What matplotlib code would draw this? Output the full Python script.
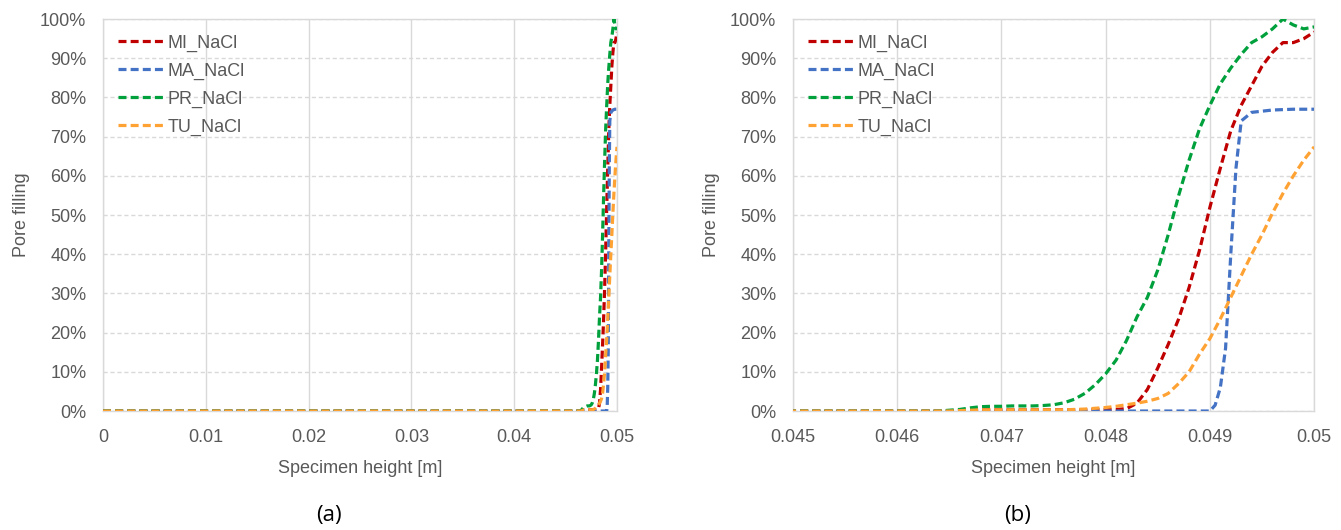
import matplotlib.pyplot as plt
import matplotlib.ticker as mticker
import numpy as np

plt.rcParams['font.family'] = ['Liberation Sans', 'DejaVu Sans']

# specimen height [m]
height = [0.0, 0.045,
          0.0464, 0.0465, 0.0466, 0.0467, 0.0468, 0.0469, 0.0470, 0.0471, 0.0472,
          0.0473, 0.0474, 0.0475, 0.0476, 0.0477, 0.0478, 0.0479, 0.0480, 0.0481,
          0.0482, 0.0483, 0.0484, 0.0485, 0.0486, 0.0487, 0.0488, 0.0489, 0.0490,
          0.0491, 0.0492, 0.0493, 0.0494, 0.0495, 0.0496, 0.0497, 0.0498, 0.0499,
          0.0500]

# pore filling [-]
mi_nacl = [0.0, 0.0,
           0.0, 0.0, 0.001, 0.002, 0.003, 0.003, 0.003, 0.003, 0.003,
           0.003, 0.003, 0.003, 0.003, 0.003, 0.003, 0.004, 0.004, 0.004,
           0.006, 0.02, 0.055, 0.11, 0.17, 0.235, 0.315, 0.41, 0.52,
           0.62, 0.715, 0.78, 0.83, 0.88, 0.915, 0.94, 0.94, 0.95,
           0.967]
pr_nacl = [0.0, 0.0,
           0.0, 0.002, 0.004, 0.008, 0.011, 0.012, 0.012, 0.013, 0.013,
           0.013, 0.014, 0.016, 0.021, 0.03, 0.045, 0.067, 0.095, 0.13,
           0.18, 0.24, 0.29, 0.36, 0.45, 0.55, 0.64, 0.72, 0.78,
           0.835, 0.875, 0.91, 0.94, 0.955, 0.975, 1.0, 0.985, 0.975,
           0.98]
tu_nacl = [0.0, 0.0,
           0.0, 0.0, 0.001, 0.002, 0.003, 0.003, 0.003, 0.003, 0.003,
           0.003, 0.003, 0.003, 0.003, 0.004, 0.005, 0.007, 0.009, 0.012,
           0.016, 0.02, 0.025, 0.032, 0.045, 0.07, 0.10, 0.145, 0.185,
           0.235, 0.29, 0.345, 0.40, 0.45, 0.505, 0.555, 0.60, 0.64,
           0.674]

# MA rises very steeply, so it has its own finer heights
ma_height = [0.0, 0.045, 0.0490, 0.04905, 0.0491, 0.04915, 0.0492, 0.04925,
             0.0493, 0.0494, 0.0496, 0.0498, 0.0500]
ma_nacl = [0.0, 0.0, 0.0, 0.015, 0.06, 0.16, 0.40, 0.62,
           0.74, 0.762, 0.768, 0.77, 0.77]

series = [
    ('MI_NaCl', height, mi_nacl, '#C00000'),
    ('MA_NaCl', ma_height, ma_nacl, '#4472C4'),
    ('PR_NaCl', height, pr_nacl, '#00A03C'),
    ('TU_NaCl', height, tu_nacl, '#FFA234'),
]

txt = '#595959'

fig = plt.figure(figsize=(13.41, 5.30), dpi=100)
ax_a = fig.add_axes([0.0768, 0.2245, 0.3833, 0.7395])
ax_b = fig.add_axes([0.5913, 0.2245, 0.3887, 0.7395])


def style_axes(ax, xlim, xticks, xlabels):
    for name, x, y, color in series:
        ax.plot(x, y, color=color, linewidth=2.3, linestyle=(0, (2.5, 1.3)),
                label=name, zorder=3)
    ax.set_xlim(*xlim)
    ax.set_ylim(0, 1)
    ax.set_xticks(xticks)
    ax.set_xticklabels(xlabels)
    ax.set_yticks(np.arange(0, 1.01, 0.1))
    ax.yaxis.set_major_formatter(mticker.PercentFormatter(1.0, decimals=0))
    ax.grid(axis='x', color='#D9D9D9', linewidth=1.0)
    ax.grid(axis='y', color='#D9D9D9', linewidth=1.0, linestyle=(0, (3, 2)))
    ax.set_axisbelow(True)
    for s in ax.spines.values():
        s.set_color('#D9D9D9')
        s.set_linewidth(1.0)
    ax.tick_params(axis='y', length=0, labelsize=13, labelcolor=txt, pad=12)
    ax.tick_params(axis='x', length=0, labelsize=13, labelcolor=txt, pad=13)
    ax.set_xlabel('Specimen height [m]', fontsize=13, color=txt, labelpad=10)
    ax.set_ylabel('Pore filling', fontsize=13, color=txt, labelpad=7)
    ax.legend(loc='upper left', frameon=False, fontsize=13, handlelength=2.55,
              handletextpad=0.2, labelspacing=0.6, borderaxespad=0.45,
              labelcolor=txt)


style_axes(ax_a, (0, 0.05), [0, 0.01, 0.02, 0.03, 0.04, 0.05],
           ['0', '0.01', '0.02', '0.03', '0.04', '0.05'])
style_axes(ax_b, (0.045, 0.05), [0.045, 0.046, 0.047, 0.048, 0.049, 0.05],
           ['0.045', '0.046', '0.047', '0.048', '0.049', '0.05'])

fig.text(0.2455, 0.028, '(a)', ha='center', va='center', fontsize=16,
         family=['Open Sans', 'DejaVu Sans'])
fig.text(0.7585, 0.028, '(b)', ha='center', va='center', fontsize=16,
         family=['Open Sans', 'DejaVu Sans'])

fig.savefig('out.png', dpi=100)
